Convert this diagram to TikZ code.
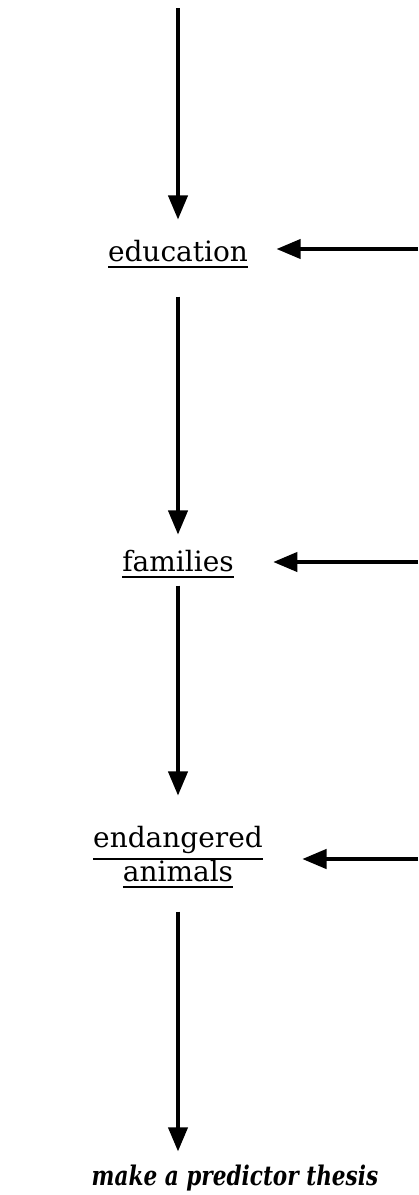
\documentclass[tikz,border=0pt]{standalone}
\usepackage{fontspec}
\usepackage{graphicx}
\setmainfont{DejaVu Serif}
\usetikzlibrary{arrows}
\tikzset{%
  topic/.style  = {inner sep = 0pt, align = center,
    font = \fontsize{14}{17}\selectfont}, % Underlined topic
  goal/.style   = {inner sep = 0pt,
    font = \fontsize{13.5}{16}\selectfont\bfseries\itshape}, % Thesis
  feed/.style   = {coordinate} % Free end on the right
}
\newcommand{\topicline}[1]{\vtop{\hbox{#1}\kern2pt\hrule height 1.1pt}}
\newcommand{\goaltext}[1]{\scalebox{0.8}[1]{#1}}

\begin{document}
\begin{tikzpicture}[x=0.5pt, y=-0.5pt, line width=1.8pt, >=triangle 45]
\useasboundingbox (0,0) rectangle (418,1195);
\draw
	% Topics down the middle :
	node at (178,8) [feed] (start) {}
	node at (178,254) [topic] (edu) {\topicline{education}}
	node at (178,564) [topic] (fam) {\topicline{families}}
	node at (178,857) [topic] (anim) {\topicline{endangered}\\\topicline{animals}}
	node at (235,1178) [goal] (thesis) {\goaltext{make a predictor thesis}}
	% Right hand ends :
	node at (418,249) [feed] (eduR) {}
	node at (418,562) [feed] (famR) {}
	node at (418,859) [feed] (animR) {};
	% Joining topics downwards
	\draw[->, shorten >=9.5pt] (start) -- (edu);
	\draw[->, shorten <=13.5pt, shorten >=7pt] (edu) -- (fam);
	\draw[->, shorten <=3pt, shorten >=14.5pt] (fam) -- (anim);
	\draw[->, shorten <=11pt, shorten >=6pt] (anim) -- (anim |- thesis.north);
	% Arrows coming in from the right
	\draw[->, shorten >=13.5pt] (eduR) -- (eduR -| edu.east);
	\draw[->, shorten >=19pt] (famR) -- (famR -| fam.east);
	\draw[->, shorten >=19pt] (animR) -- (animR -| anim.east);
\end{tikzpicture}
\end{document}
